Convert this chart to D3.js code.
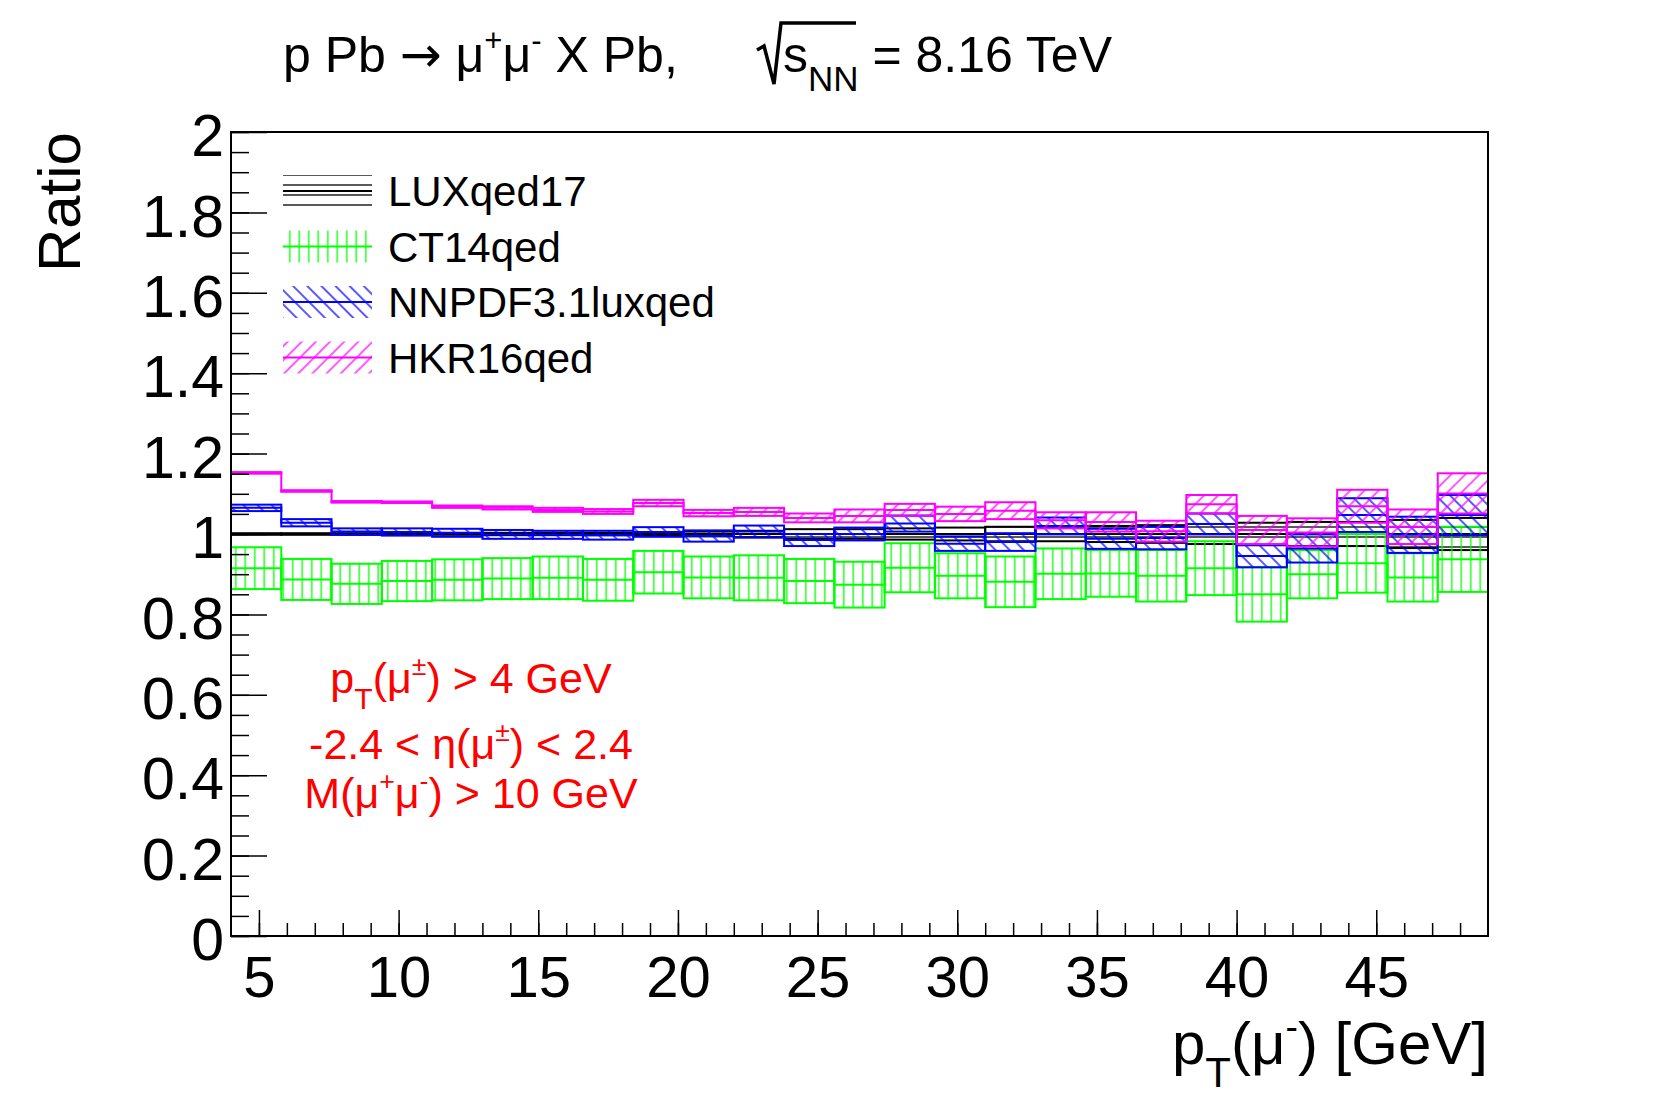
<!DOCTYPE html>
<meta charset="utf-8">
<style>
  body { margin: 0; background: #fff; }
  text { font-family: "Liberation Sans", Arial, Helvetica, sans-serif; }
  .axis .domain { display: none; }
  .axis line { stroke: #000; stroke-width: 1.5px; }
</style>
<body>
<script src="https://d3js.org/d3.v7.min.js"></script>
<script>
  // bin edges of pT(mu-) [GeV]
  var xEdges = [4, 5.8, 7.6, 9.4, 11.2, 13, 14.8, 16.6, 18.4, 20.2, 22, 23.8, 25.6,
    27.4, 29.2, 31, 32.8, 34.6, 36.4, 38.2, 40, 41.8, 43.6, 45.4, 47.2, 49];

  // ratios to LUXqed17 and their half widths
  var luxCenter = [1, 1, 1, 1, 1, 1, 1, 1, 1, 1, 1, 1, 1, 1, 1, 1, 1, 1, 1, 1, 1, 1, 1, 1, 1];
  var luxErr = [0.002, 0.002, 0.002, 0.002, 0.002, 0.003, 0.003, 0.003, 0.003, 0.006, 0.008, 0.012, 0.012,
    0.014, 0.016, 0.018, 0.018, 0.020, 0.022, 0.025, 0.028, 0.030, 0.030, 0.035, 0.040];

  var ct14Center = [0.915, 0.887, 0.876, 0.883, 0.886, 0.889, 0.891, 0.886, 0.905, 0.892, 0.891, 0.883, 0.874,
    0.916, 0.896, 0.881, 0.901, 0.902, 0.896, 0.915, 0.850, 0.900, 0.927, 0.892, 0.937];
  var ct14Err = [0.052, 0.051, 0.050, 0.050, 0.051, 0.051, 0.053, 0.052, 0.053, 0.052, 0.056, 0.055, 0.057,
    0.061, 0.056, 0.063, 0.063, 0.058, 0.064, 0.067, 0.068, 0.060, 0.073, 0.060, 0.081];

  var nnpdfCenter = [1.065, 1.028, 1.006, 1.005, 1.003, 0.999, 0.998, 0.997, 1.005, 0.995, 1.006, 0.985, 1.000,
    1.026, 0.976, 0.980, 1.020, 0.988, 0.990, 1.025, 0.945, 0.964, 1.047, 0.998, 1.047];
  var nnpdfErr = [0.008, 0.009, 0.008, 0.009, 0.010, 0.011, 0.010, 0.011, 0.012, 0.014, 0.015, 0.015, 0.016,
    0.020, 0.018, 0.022, 0.021, 0.025, 0.028, 0.026, 0.028, 0.035, 0.042, 0.045, 0.050];

  var hkrCenter = [1.152, 1.107, 1.080, 1.079, 1.068, 1.065, 1.060, 1.056, 1.077, 1.052, 1.055, 1.040, 1.045,
    1.060, 1.050, 1.058, 1.034, 1.030, 1.007, 1.074, 1.010, 1.004, 1.069, 1.018, 1.101];
  var hkrErr = [0.002, 0.002, 0.002, 0.002, 0.003, 0.004, 0.005, 0.006, 0.008, 0.008, 0.010, 0.011, 0.016,
    0.015, 0.018, 0.021, 0.020, 0.024, 0.026, 0.023, 0.035, 0.035, 0.041, 0.043, 0.050];

  var legendLabels = ["LUXqed17", "CT14qed", "NNPDF3.1luxqed", "HKR16qed"];
  var xTicks = [5, 10, 15, 20, 25, 30, 35, 40, 45];
  var yTicks = [0, 0.2, 0.4, 0.6, 0.8, 1, 1.2, 1.4, 1.6, 1.8, 2];

  var series = [
    { name: legendLabels[0], center: luxCenter, err: luxErr, color: "#000000", pat: "hatchH" },
    { name: legendLabels[1], center: ct14Center, err: ct14Err, color: "#00ff00", pat: "hatchV" },
    { name: legendLabels[2], center: nnpdfCenter, err: nnpdfErr, color: "#0000ff", pat: "hatchB" },
    { name: legendLabels[3], center: hkrCenter, err: hkrErr, color: "#ff00ff", pat: "hatchF" }
  ];

  var margin = { top: 132, right: 167, bottom: 167, left: 231 },
    W = 1655, H = 1103,
    width = W - margin.left - margin.right,
    height = H - margin.top - margin.bottom;

  var x = d3.scaleLinear().domain([4, 49]).range([0, width]);
  var y = d3.scaleLinear().domain([0, 2]).range([height, 0]);

  var svg = d3.select("body").append("svg")
    .attr("width", W)
    .attr("height", H)
    .style("display", "block");

  svg.append("rect").attr("width", W).attr("height", H).attr("fill", "#fff");

  // hatch patterns, ROOT style
  var defs = svg.append("defs");
  function hatch(id, color, spacing, angle) {
    var p = defs.append("pattern")
      .attr("id", id)
      .attr("patternUnits", "userSpaceOnUse")
      .attr("width", spacing)
      .attr("height", spacing)
      .attr("patternTransform", "rotate(" + angle + ")");
    p.append("line")
      .attr("x1", spacing / 2).attr("x2", spacing / 2)
      .attr("y1", -1).attr("y2", spacing + 1)
      .attr("stroke", color)
      .attr("stroke-width", 1.3);
  }
  hatch("hatchH", "#000000", 10, 90);
  hatch("hatchV", "#00ff00", 9.5, 0);
  hatch("hatchB", "#0000ff", 10, -45);
  hatch("hatchF", "#ff00ff", 10, 45);

  var g = svg.append("g")
    .attr("transform", "translate(" + margin.left + "," + margin.top + ")");

  var clip = defs.append("clipPath").attr("id", "frameClip");
  clip.append("rect").attr("width", width).attr("height", height);

  var plot = g.append("g").attr("clip-path", "url(#frameClip)");

  var line = d3.line()
    .x(function(d) { return x(d[0]); })
    .y(function(d) { return y(d[1]); });

  series.forEach(function(s) {
    var bins = s.center.map(function(c, i) {
      return { lo: xEdges[i], hi: xEdges[i + 1], c: c, e: s.err[i] };
    });

    // error boxes
    plot.append("g").selectAll("rect")
      .data(bins)
      .enter().append("rect")
      .attr("x", function(d) { return x(d.lo); })
      .attr("width", function(d) { return x(d.hi) - x(d.lo); })
      .attr("y", function(d) { return y(d.c + d.e); })
      .attr("height", function(d) { return y(d.c - d.e) - y(d.c + d.e); })
      .attr("fill", "url(#" + s.pat + ")")
      .attr("stroke", s.color)
      .attr("stroke-width", 2);

    // central value as histogram steps
    var pts = [];
    bins.forEach(function(d) {
      pts.push([d.lo, d.c]);
      pts.push([d.hi, d.c]);
    });
    plot.append("path")
      .datum(pts)
      .attr("d", line)
      .attr("fill", "none")
      .attr("stroke", s.color)
      .attr("stroke-width", 2);
  });

  // axes
  var minorX = d3.range(5, 49, 1);
  var minorY = d3.range(0, 2.001, 0.05);

  g.append("g")
    .attr("class", "axis")
    .attr("transform", "translate(0," + height + ")")
    .call(d3.axisBottom(x).tickValues(minorX).tickSize(-13).tickFormat(""));

  g.append("g")
    .attr("class", "axis")
    .attr("transform", "translate(0," + height + ")")
    .call(d3.axisBottom(x).tickValues(xTicks).tickSize(-26).tickPadding(20)
      .tickFormat(function(d) { return d; }))
    .selectAll("text")
    .attr("font-size", 58)
    .attr("fill", "#000")
    .style("font-family", "'Liberation Sans', Arial, Helvetica, sans-serif");

  g.append("g")
    .attr("class", "axis")
    .call(d3.axisLeft(y).tickValues(minorY).tickSize(-18).tickFormat(""));

  g.append("g")
    .attr("class", "axis")
    .call(d3.axisLeft(y).tickValues(yTicks).tickSize(-36).tickPadding(7)
      .tickFormat(function(d) { return String(+d.toFixed(1)); }))
    .selectAll("text")
    .attr("font-size", 59)
    .attr("dy", "0.4em")
    .attr("fill", "#000")
    .style("font-family", "'Liberation Sans', Arial, Helvetica, sans-serif");

  // frame
  g.append("rect")
    .attr("width", width)
    .attr("height", height)
    .attr("fill", "none")
    .attr("stroke", "#000")
    .attr("stroke-width", 2);

  // text with sub / superscripts
  function rich(sel, parts, size) {
    var shift = 0;
    parts.forEach(function(p) {
      var t = sel.append("tspan").text(p[0]);
      var target = 0, fs = size;
      if (p[1] === "sub") { target = 0.38 * size; fs = 0.7 * size; }
      if (p[1] === "sup") { target = -0.42 * size; fs = 0.62 * size; }
      if (p[1] === "sym") { t.style("font-family", "'DejaVu Sans', sans-serif"); }
      t.attr("font-size", fs).attr("dy", target - shift);
      shift = target;
    });
  }

  // title
  var title = svg.append("text")
    .attr("x", 283).attr("y", 72)
    .attr("font-size", 50)
    .attr("fill", "#000");
  rich(title, [["p Pb ", ""], ["\u2192", "sym"], [" \u03bc", ""], ["+", "sup"], ["\u03bc", ""], ["-", "sup"], [" X Pb,", ""]], 50);

  svg.append("path")
    .attr("d", "M757,50 L764,46 L774,84 L781,23 L856,23")
    .attr("fill", "none")
    .attr("stroke", "#000")
    .attr("stroke-width", 3.5)
    .attr("stroke-linejoin", "miter");

  var title2 = svg.append("text")
    .attr("x", 783).attr("y", 72)
    .attr("font-size", 50)
    .attr("fill", "#000");
  rich(title2, [["s", ""], ["NN", "sub"], [" = 8.16 TeV", ""]], 50);

  // axis titles
  var xt = svg.append("text")
    .attr("x", margin.left + width).attr("y", 1064)
    .attr("text-anchor", "end")
    .attr("font-size", 60)
    .attr("fill", "#000");
  rich(xt, [["p", ""], ["T", "sub"], ["(\u03bc", ""], ["-", "sup"], [") [GeV]", ""]], 60);

  svg.append("text")
    .attr("transform", "translate(80," + margin.top + ") rotate(-90)")
    .attr("text-anchor", "end")
    .attr("font-size", 60)
    .attr("fill", "#000")
    .text("Ratio");

  // legend
  var leg = svg.append("g");
  series.forEach(function(s, i) {
    var cy = 191 + i * 55.5;
    leg.append("rect")
      .attr("x", 283).attr("y", cy - 16)
      .attr("width", 89).attr("height", 32)
      .attr("fill", "url(#" + s.pat + ")");
    leg.append("line")
      .attr("x1", 283).attr("x2", 372)
      .attr("y1", cy).attr("y2", cy)
      .attr("stroke", s.color)
      .attr("stroke-width", 2);
    leg.append("text")
      .attr("x", 388).attr("y", cy + 15)
      .attr("font-size", 42)
      .attr("fill", "#000")
      .text(s.name);
  });

  // cuts
  var cuts = [
    [["p", ""], ["T", "sub"], ["(\u03bc", ""], ["\u00b1", "sup"], [") > 4 GeV", ""]],
    [["-2.4 < \u03b7(\u03bc", ""], ["\u00b1", "sup"], [") < 2.4", ""]],
    [["M(\u03bc", ""], ["+", "sup"], ["\u03bc", ""], ["-", "sup"], [") > 10 GeV", ""]]
  ];
  var cutY = [693, 759, 808];
  cuts.forEach(function(parts, i) {
    var t = svg.append("text")
      .attr("x", 471).attr("y", cutY[i])
      .attr("text-anchor", "middle")
      .attr("font-size", 43)
      .attr("fill", "#ff0000");
    rich(t, parts, 43);
  });
</script>
</body>
